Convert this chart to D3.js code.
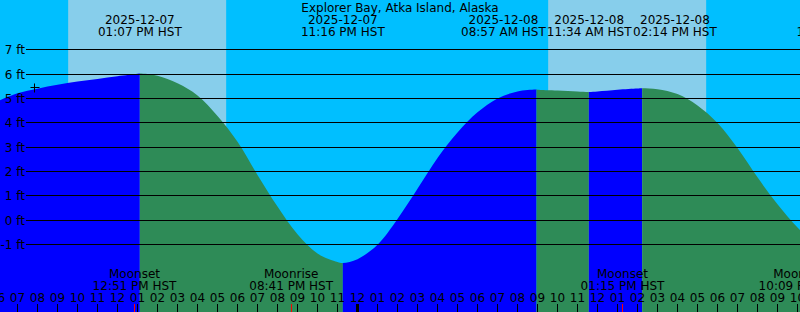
<!DOCTYPE html>
<html>
<head>
<meta charset="utf-8">
<script src="https://cdn.jsdelivr.net/npm/d3@7"></script>
<style>
body { margin: 0; overflow: hidden; background: #fff; }
svg { display: block; font-family: "DejaVu Sans", sans-serif; font-size: 12px; }
</style>
</head>
<body>
<svg id="chart" width="800" height="312"></svg>
<script>
/*
----------------------------------------------------------
                   data
----------------------------------------------------------
*/
var stationName = "Explorer Bay, Atka Island, Alaska";
var viewStart = "2025-12-07 06:07:30";
var viewEnd = "2025-12-08 22:07:30";

// hourly tide heights (ft), from 2025-12-07 06:00 onward
var hourlyStart = "2025-12-07 06:00";
var hourlyHeights = [
	4.88, 5.21, 5.40, 5.56, 5.70, 5.80, 5.91, 6.01, 5.93, 5.62, 5.12, 4.28,
	3.22, 1.86, 0.56, -0.58, -1.37, -1.72,
	-1.60, -1.01, 0.05, 1.29, 2.55, 3.60, 4.43, 5.00, 5.29, 5.36, 5.33, 5.29,
	5.29, 5.36, 5.41, 5.38, 5.18, 4.71, 3.99, 2.96, 1.76, 0.65, -0.30, -1.05
];

// highs and lows
var extremeTimes = ["2025-12-07 13:07", "2025-12-07 23:16", "2025-12-08 08:57",
                    "2025-12-08 11:34", "2025-12-08 14:14", "2025-12-09 00:04"];
var extremeHeights = [6.02, -1.76, 5.37, 5.27, 5.42, -1.40];
var extremeTypes = ["H", "L", "H", "L", "H", "L"];

var sunriseTimes = ["2025-12-07 09:32", "2025-12-08 09:32"];
var sunsetTimes = ["2025-12-07 17:26", "2025-12-08 17:26"];

var moonTimes = ["2025-12-07 12:51", "2025-12-07 20:41", "2025-12-08 13:15", "2025-12-08 22:09"];
var moonEvents = ["Moonset", "Moonrise", "Moonset", "Moonrise"];

var levels = [-1, 0, 1, 2, 3, 4, 5, 6, 7];

var nowTime = "2025-12-07 07:50";
var nowHeight = 5.45;

/*
----------------------------------------------------------
                   scales
----------------------------------------------------------
*/
var width = 800, height = 312;
var parseTime = d3.timeParse("%Y-%m-%d %H:%M");
var parseFull = d3.timeParse("%Y-%m-%d %H:%M:%S");
var fmtDate = d3.timeFormat("%Y-%m-%d");
var fmtClock = d3.timeFormat("%I:%M %p HST");
var fmtHour = d3.timeFormat("%I");

var x = d3.scaleTime()
	.domain([parseFull(viewStart), parseFull(viewEnd)])
	.range([0, width]);

var y = d3.scaleLinear()
	.domain([-1, 7])
	.range([244.55, 49.75]);

var t0 = parseTime(hourlyStart);
var tide = hourlyHeights.map(function(h, i) {
	return { time: d3.timeHour.offset(t0, i), height: h };
});
var extremes = extremeTimes.map(function(t, i) {
	return { time: parseTime(t), height: extremeHeights[i], type: extremeTypes[i] };
});
tide = tide.concat(extremes).sort(function(a, b) { return a.time - b.time; });

var svg = d3.select("#chart");

/*
----------------------------------------------------------
                   background and daylight
----------------------------------------------------------
*/
svg.append("rect")
	.attr("width", width).attr("height", height)
	.attr("fill", "#00bfff");

svg.append("g").selectAll("rect")
	.data(sunriseTimes.map(function(t, i) { return [parseTime(t), parseTime(sunsetTimes[i])]; }))
	.enter().append("rect")
		.attr("x", function(d) { return x(d[0]); })
		.attr("width", function(d) { return x(d[1]) - x(d[0]); })
		.attr("y", 0).attr("height", height)
		.attr("fill", "#87ceeb");

/*
----------------------------------------------------------
                   tide curve, blue rising, green falling
----------------------------------------------------------
*/
var area = d3.area()
	.x(function(d) { return x(d.time); })
	.y0(height)
	.y1(function(d) { return y(d.height); })
	.curve(d3.curveCatmullRom.alpha(0.5));

var spans = [];
var prev = d3.timeHour.offset(x.domain()[0], -3);
extremes.forEach(function(e) {
	spans.push({ from: prev, to: e.time, rising: e.type == "H" });
	prev = e.time;
});
spans.push({ from: prev, to: d3.timeHour.offset(x.domain()[1], 3), rising: extremes[extremes.length - 1].type == "L" });

var defs = svg.append("defs");
spans.forEach(function(s, i) {
	defs.append("clipPath").attr("id", "span" + i)
		.append("rect")
			.attr("x", x(s.from))
			.attr("width", x(s.to) - x(s.from))
			.attr("y", 0).attr("height", height);
	svg.append("path")
		.datum(tide)
		.attr("d", area)
		.attr("clip-path", "url(#span" + i + ")")
		.attr("fill", s.rising ? "#0000ff" : "#2e8b57");
});

/*
----------------------------------------------------------
                   level lines
----------------------------------------------------------
*/
var grid = svg.append("g");
grid.selectAll("line").data(levels).enter()
	.append("line")
		.attr("x1", 26).attr("x2", width)
		.attr("y1", function(d) { return Math.floor(y(d)) + 0.5; })
		.attr("y2", function(d) { return Math.floor(y(d)) + 0.5; })
		.attr("stroke", "#000").attr("stroke-width", 1);
grid.selectAll("text").data(levels).enter()
	.append("text")
		.attr("x", 25)
		.attr("y", function(d) { return Math.floor(y(d)) + 4.5; })
		.attr("text-anchor", "end")
		.text(function(d) { return d + " ft"; });

/*
----------------------------------------------------------
                   labels
----------------------------------------------------------
*/
svg.append("text")
	.attr("x", width / 2).attr("y", 12)
	.attr("text-anchor", "middle")
	.text(stationName);

var tideLabels = svg.append("g").selectAll("g").data(extremes).enter().append("g");
tideLabels.append("text").attr("class", "day")
	.attr("y", 24).attr("text-anchor", "middle")
	.text(function(d) { return fmtDate(d.time); });
tideLabels.append("text").attr("class", "clock")
	.attr("y", 36).attr("text-anchor", "middle")
	.text(function(d) { return fmtClock(d.time); });

// push crowded labels apart
var labelX = extremes.map(function(d) { return x(d.time); });
var gap = d3.max(tideLabels.select(".clock").nodes(), function(n) { return n.getComputedTextLength(); }) + 1;
for (var k = 0; k < 200; k++) {
	for (var i = 1; i < labelX.length; i++) {
		var dist = labelX[i] - labelX[i - 1];
		if (dist < gap) {
			var s = (gap - dist) / 2;
			labelX[i - 1] -= s;
			labelX[i] += s;
		}
	}
}
tideLabels.attr("transform", function(d, i) { return "translate(" + labelX[i] + ",0)"; });

var moon = moonTimes.map(function(t, i) { return { time: parseTime(t), name: moonEvents[i] }; });
var moonLabels = svg.append("g").selectAll("g").data(moon).enter().append("g")
	.attr("transform", function(d) { return "translate(" + x(d.time) + ",0)"; });
moonLabels.append("text").attr("y", 278).attr("text-anchor", "middle")
	.text(function(d) { return d.name; });
moonLabels.append("text").attr("y", 290).attr("text-anchor", "middle")
	.text(function(d) { return fmtClock(d.time); });

/*
----------------------------------------------------------
                   hour axis
----------------------------------------------------------
*/
var hours = d3.timeHour.range(d3.timeHour.offset(x.domain()[0], -1), d3.timeHour.offset(x.domain()[1], 1));
var axis = svg.append("g");
axis.selectAll("text").data(hours).enter()
	.append("text")
		.attr("x", function(d) { return x(d); })
		.attr("y", 302)
		.attr("text-anchor", "middle")
		.text(fmtHour);
axis.selectAll("line.hour").data(hours).enter()
	.append("line").attr("class", "hour")
		.attr("x1", function(d) { return Math.floor(x(d)) + 0.5; })
		.attr("x2", function(d) { return Math.floor(x(d)) + 0.5; })
		.attr("y1", 304).attr("y2", height)
		.attr("stroke", "#000")
		.attr("stroke-width", function(d) { return d.getHours() == 0 ? 3 : 1; });
axis.selectAll("line.moon").data(moon).enter()
	.append("line").attr("class", "moon")
		.attr("x1", function(d) { return Math.floor(x(d.time)) + 0.5; })
		.attr("x2", function(d) { return Math.floor(x(d.time)) + 0.5; })
		.attr("y1", 304).attr("y2", height)
		.attr("stroke", "#ff0000").attr("stroke-width", 1);

/*
----------------------------------------------------------
                   current time marker
----------------------------------------------------------
*/
var nx = Math.floor(x(parseTime(nowTime))) + 0.5;
var ny = Math.floor(y(nowHeight)) + 0.5;
var plus = svg.append("g").attr("stroke", "#000").attr("stroke-width", 1);
plus.append("line").attr("x1", nx - 4).attr("x2", nx + 5).attr("y1", ny).attr("y2", ny);
plus.append("line").attr("x1", nx).attr("x2", nx).attr("y1", ny - 4).attr("y2", ny + 5);
</script>
</body>
</html>
